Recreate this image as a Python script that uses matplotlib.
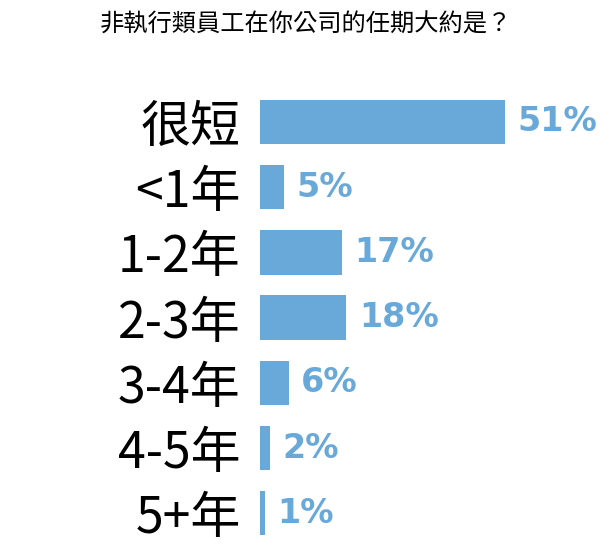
import matplotlib
matplotlib.use("Agg")
import matplotlib.pyplot as plt

# data
categories = ["很短", "<1年", "1-2年", "2-3年", "3-4年", "4-5年", "5+年"]
values = [51, 5, 17, 18, 6, 2, 1]
value_labels = ["51%", "5%", "17%", "18%", "6%", "2%", "1%"]
title = "非執行類員工在你公司的任期大約是？"

bar_color = "#68a9d9"
cjk = ["Noto Sans CJK TC", "DejaVu Sans"]

fig = plt.figure(figsize=(6.15, 5.51), dpi=100)
ax = fig.add_axes([260 / 615, 0.0094, 336 / 615, 0.8284])

ypos = list(range(len(categories)))
ax.barh(ypos, values, height=0.68, color=bar_color)
ax.set_xlim(0, 336 / (245 / 51))
ax.set_ylim(len(categories) - 0.5, -0.5)

for y, v, lab in zip(ypos, values, value_labels):
    ax.annotate(lab, (v, y), xytext=(9, 0), textcoords="offset points",
                ha="left", va="center", fontsize=24, fontweight="heavy",
                color=bar_color, family="DejaVu Sans")

ax.set_yticks(ypos)
ax.set_yticklabels(categories, fontsize=36, family=cjk, fontweight="light")
ax.tick_params(axis="y", length=0, pad=14)
ax.set_xticks([])
for s in ax.spines.values():
    s.set_visible(False)

fig.text(0.497, 0.955, title, ha="center", va="center", fontsize=17.5, family=cjk)

fig.savefig("out.png", dpi=100)
